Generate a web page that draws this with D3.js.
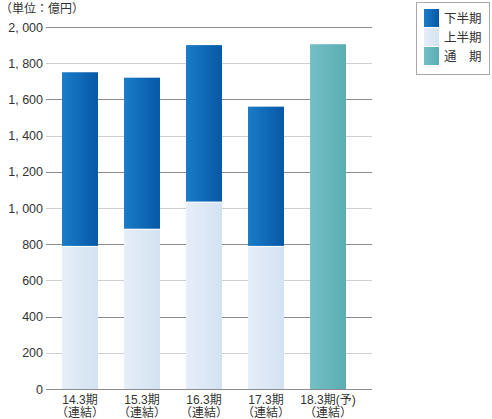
<!DOCTYPE html>
<html><head><meta charset="utf-8">
<script src="https://cdn.jsdelivr.net/npm/d3@7"></script>
<style>
body{margin:0;background:#fff;}
svg{display:block;font-family:"Noto Sans CJK JP","Noto Sans",sans-serif;}
.lat{font-family:"Liberation Sans","Noto Sans CJK JP",sans-serif;}
</style></head>
<body><svg id="c" width="492" height="419"></svg>
<script>
const categories = ["14.3期","15.3期","16.3期","17.3期","18.3期(予)"];
const subLabels = ["（連結）","（連結）","（連結）","（連結）","（連結）"];
const firstHalf = [785, 880, 1030, 785, null];
const secondHalf = [965, 840, 870, 775, null];
const fullYear = [null, null, null, null, 1905];
const yTicks = [0,200,400,600,800,1000,1200,1400,1600,1800,2000];
const yTickLabels = ["0","200","400","600","800","1, 000","1, 200","1, 400","1, 600","1, 800","2, 000"];
const legendLabels = ["下半期","上半期","通　期"];

const svg = d3.select("#c");
const defs = svg.append("defs");
function grad(id, c1, c2){
  const g = defs.append("linearGradient").attr("id",id).attr("x1","0").attr("x2","1").attr("y1","0").attr("y2","0");
  g.append("stop").attr("offset","0").attr("stop-color",c1);
  g.append("stop").attr("offset","1").attr("stop-color",c2);
}
grad("gDark","#1a7cc8","#0658a6");
grad("gLight","#e6eef8","#d3e2f2");
grad("gTeal","#74c0c5","#5aadb2");

const x = d3.scaleBand().domain(categories).range([49,359]).paddingInner(0.42).paddingOuter(0.21);
const y = d3.scaleLinear().domain([0,2000]).range([389,27]);

// grid
svg.append("g").selectAll("line").data(yTicks).join("line")
  .attr("x1",46).attr("x2",372)
  .attr("y1",d=>Math.round(y(d))+0.5).attr("y2",d=>Math.round(y(d))+0.5)
  .attr("stroke",d=> d%400===0 ? "#8c8c8c" : "#d0d0d0").attr("stroke-width",1);

svg.append("g").attr("class","lat").selectAll("text").data(yTicks).join("text")
  .attr("x",43).attr("y",d=>y(d)+4.5).attr("text-anchor","end")
  .attr("font-size",12.5).attr("fill","#333")
  .text((d,i)=>yTickLabels[i]);

const bars = svg.append("g");
categories.forEach((c,i)=>{
  const bx = x(c), bw = x.bandwidth();
  if(firstHalf[i]!=null){
    bars.append("rect").attr("x",bx).attr("width",bw)
      .attr("y",y(firstHalf[i])).attr("height",y(0)-y(firstHalf[i]))
      .attr("fill","url(#gLight)");
    const top = firstHalf[i]+secondHalf[i];
    bars.append("rect").attr("x",bx).attr("width",bw)
      .attr("y",y(top)).attr("height",y(firstHalf[i])-y(top)-1)
      .attr("fill","url(#gDark)");
  }
  if(fullYear[i]!=null){
    bars.append("rect").attr("x",bx).attr("width",bw)
      .attr("y",y(fullYear[i])).attr("height",y(0)-y(fullYear[i]))
      .attr("fill","url(#gTeal)");
  }
});

// x labels (two lines in one text element)
const xl = svg.append("g").attr("class","lat");
categories.forEach((c,i)=>{
  const cx = x(c)+x.bandwidth()/2;
  const t = xl.append("text").attr("text-anchor","middle")
    .attr("font-size",12).attr("fill","#333");
  t.append("tspan").attr("x",cx).attr("y",404).text(c);
  t.append("tspan").attr("x",cx).attr("y",417).text(subLabels[i]);
});

// unit label
svg.append("text").attr("x",0).attr("y",13).attr("font-size",12).attr("fill","#333").text("（単位：億円）");

// legend
const lg = svg.append("g");
lg.append("rect").attr("x",416.5).attr("y",2.5).attr("width",73).attr("height",72)
  .attr("fill","#fff").attr("stroke","#aaa");
const lfills = ["url(#gDark)","url(#gLight)","url(#gTeal)"];
legendLabels.forEach((t,i)=>{
  lg.append("rect").attr("x",424).attr("y",9+i*19).attr("width",15).attr("height",18).attr("fill",lfills[i]);
  lg.append("text").attr("x",444).attr("y",23+i*19).attr("font-size",12.5).attr("fill","#333").text(t);
});
</script></body></html>
